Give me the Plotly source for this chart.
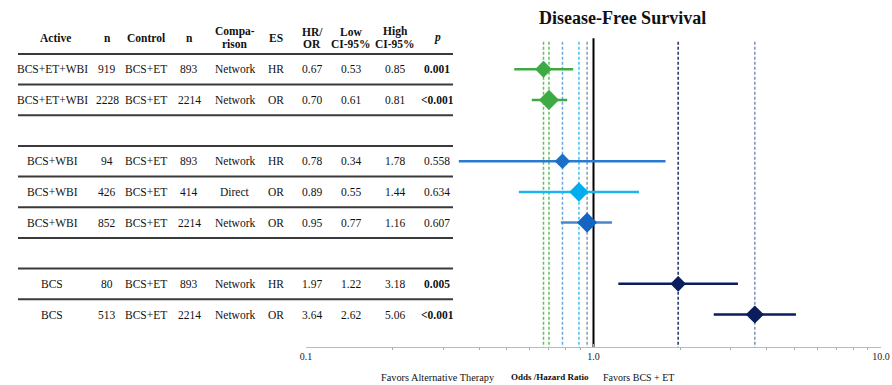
import plotly.graph_objects as go

# ---- data ----
active = ["BCS+ET+WBI", "BCS+ET+WBI", "BCS+WBI", "BCS+WBI", "BCS+WBI", "BCS", "BCS"]
n_active = ["919", "2228", "94", "426", "852", "80", "513"]
control = ["BCS+ET"] * 7
n_control = ["893", "2214", "893", "414", "2214", "893", "2214"]
comparison = ["Network", "Network", "Network", "Direct", "Network", "Network", "Network"]
es = ["HR", "OR", "HR", "OR", "OR", "HR", "OR"]
estimate = [0.67, 0.70, 0.78, 0.89, 0.95, 1.97, 3.64]
low_ci = [0.53, 0.61, 0.34, 0.55, 0.77, 1.22, 2.62]
high_ci = [0.85, 0.81, 1.78, 1.44, 1.16, 3.18, 5.06]
p_values = ["0.001", "<0.001", "0.558", "0.634", "0.607", "0.005", "<0.001"]
p_bold = [True, True, False, False, False, True, True]
group = [0, 0, 1, 1, 1, 2, 2]

headers = [["Active"], ["n"], ["Control"], ["n"], ["Compa-", "rison"], ["ES"],
           ["HR/", "OR"], ["Low", "CI-95%"], ["High", "CI-95%"], ["<i>p</i>"]]
tick_vals = [0.1, 1, 10]
tick_text = ["0.1", "1.0", "10.0"]

# ---- styles ----
diamond_col = ["#3DAA44", "#3DAA44", "#1B6FC6", "#00AEEF", "#1565C0", "#0A1D5C", "#0A1D5C"]
bar_col = ["#3DAA44", "#3DAA44", "#2A7ACF", "#1CB6EE", "#4A86CC", "#0A1D5C", "#0A1D5C"]
ref_col = ["#5EC25E", "#5EC25E", "#6FA6E0", "#45C3F2", "#8A98B0", "#1C2F6B", "#7F8EB5"]
diamond_size = [13, 15.5, 12, 15, 15.5, 12, 14]

W, H = 892, 385
FONT = "Liberation Serif"
row_k = [i + g for i, g in enumerate(group)]
K_TOP, K_BOT = -1.282, 9.06

def px(x):          # pixel x -> paper
    return x / W
def py(y):          # pixel y -> paper
    return (347 - y) / 317
def ky(y):          # pixel y -> row units
    return (y - 69.3) / 30.65

fig = go.Figure()

# reference dashed lines
for i, v in enumerate(estimate):
    fig.add_trace(go.Scatter(x=[v, v], y=[-0.9, K_BOT], mode="lines",
                             line=dict(color=ref_col[i], width=1.5, dash="3px,2px"),
                             hoverinfo="skip", showlegend=False))
# line of no effect
fig.add_trace(go.Scatter(x=[1, 1], y=[-1.01, K_BOT], mode="lines",
                         line=dict(color="black", width=2), hoverinfo="skip", showlegend=False))
# CI bars
for i in range(len(estimate)):
    fig.add_trace(go.Scatter(x=[low_ci[i], high_ci[i]], y=[row_k[i], row_k[i]], mode="lines",
                             line=dict(color=bar_col[i], width=2.5),
                             hoverinfo="skip", showlegend=False))
# diamonds
fig.add_trace(go.Scatter(x=estimate, y=row_k, mode="markers",
                         marker=dict(symbol="diamond", size=diamond_size, color=diamond_col,
                                     opacity=1, line=dict(width=0)),
                         hoverinfo="skip", showlegend=False))

# ---- table ----
col_x = [52, 107, 146, 189, 235, 276, 312, 351, 395, 437]
ann = []
for j, h in enumerate(headers):
    if len(h) == 1:
        ann.append(dict(x=px(col_x[j] + (3 if j == 0 else 0)), y=ky(38), text="<b>%s</b>" % h[0]))
    else:
        ann.append(dict(x=px(col_x[j]), y=ky(32), text="<b>%s</b>" % h[0]))
        ann.append(dict(x=px(col_x[j]), y=ky(44), text="<b>%s</b>" % h[1]))
for a in ann:
    a["font"] = dict(family=FONT, size=11.5, color="#111")

for i in range(len(active)):
    vals = [active[i], n_active[i], control[i], n_control[i], comparison[i], es[i],
            "%.2f" % estimate[i], "%.2f" % low_ci[i], "%.2f" % high_ci[i],
            ("<b>%s</b>" % p_values[i]) if p_bold[i] else p_values[i]]
    for j, v in enumerate(vals):
        ann.append(dict(x=px(col_x[j]), y=row_k[i], text=v,
                        font=dict(family=FONT, size=11.5, color="#111")))

for a in ann:
    a.update(xref="paper", yref="y", xanchor="center", yanchor="middle", showarrow=False)

# title and bottom labels
ann.append(dict(x=px(622), y=py(18), xref="paper", yref="paper",
                text="<b>Disease-Free Survival</b>", showarrow=False,
                xanchor="center", yanchor="middle", font=dict(family=FONT, size=18, color="#111")))
for xp, t, fs in [(438, "Favors Alternative Therapy", 10.3), (550, "<b>Odds /Hazard Ratio</b>", 9),
                  (638, "Favors BCS + ET", 10)]:
    ann.append(dict(x=px(xp), y=py(377), xref="paper", yref="paper", text=t,
                    showarrow=False, xanchor="center", yanchor="middle",
                    font=dict(family=FONT, size=fs, color="#111")))

shapes = []
line_k = [-0.5] + [k + 0.5 for k in row_k[:-1]] + \
         [row_k[i] - 0.5 for i in range(1, len(row_k)) if group[i] != group[i - 1]]
for k in sorted(set(line_k)):
    shapes.append(dict(type="line", xref="paper", yref="y", x0=px(18), x1=px(453), y0=k, y1=k,
                       line=dict(color="#3a3a3a", width=2)))

fig.update_layout(
    width=W, height=H, margin=dict(l=0, r=0, t=30, b=385 - 347, pad=0),
    plot_bgcolor="white", paper_bgcolor="white",
    annotations=ann, shapes=shapes, hovermode=False,
    xaxis=dict(type="log", domain=[px(306), px(881)], range=[-1, 1], automargin=False,
               tickvals=tick_vals, ticktext=tick_text, ticks="inside", ticklen=3,
               tickcolor="#aaa", showline=True, linecolor="#bbb", linewidth=1,
               showgrid=False, zeroline=False,
               tickfont=dict(family=FONT, size=10, color="#222"),
               minor=dict(tickvals=[0.2, 0.3, 0.4, 0.5, 0.6, 0.7, 0.8, 0.9, 2, 3, 4, 5, 6, 7, 8, 9],
                          ticks="outside", ticklen=2, tickcolor="#aaa", showgrid=False)),
    yaxis=dict(range=[K_BOT, K_TOP], visible=False, showgrid=False, zeroline=False,
               automargin=False),
)

fig.write_html("out.html", config={"displayModeBar": False, "staticPlot": True},
               post_script="document.body.style.margin='0';document.body.style.overflow='hidden';")
